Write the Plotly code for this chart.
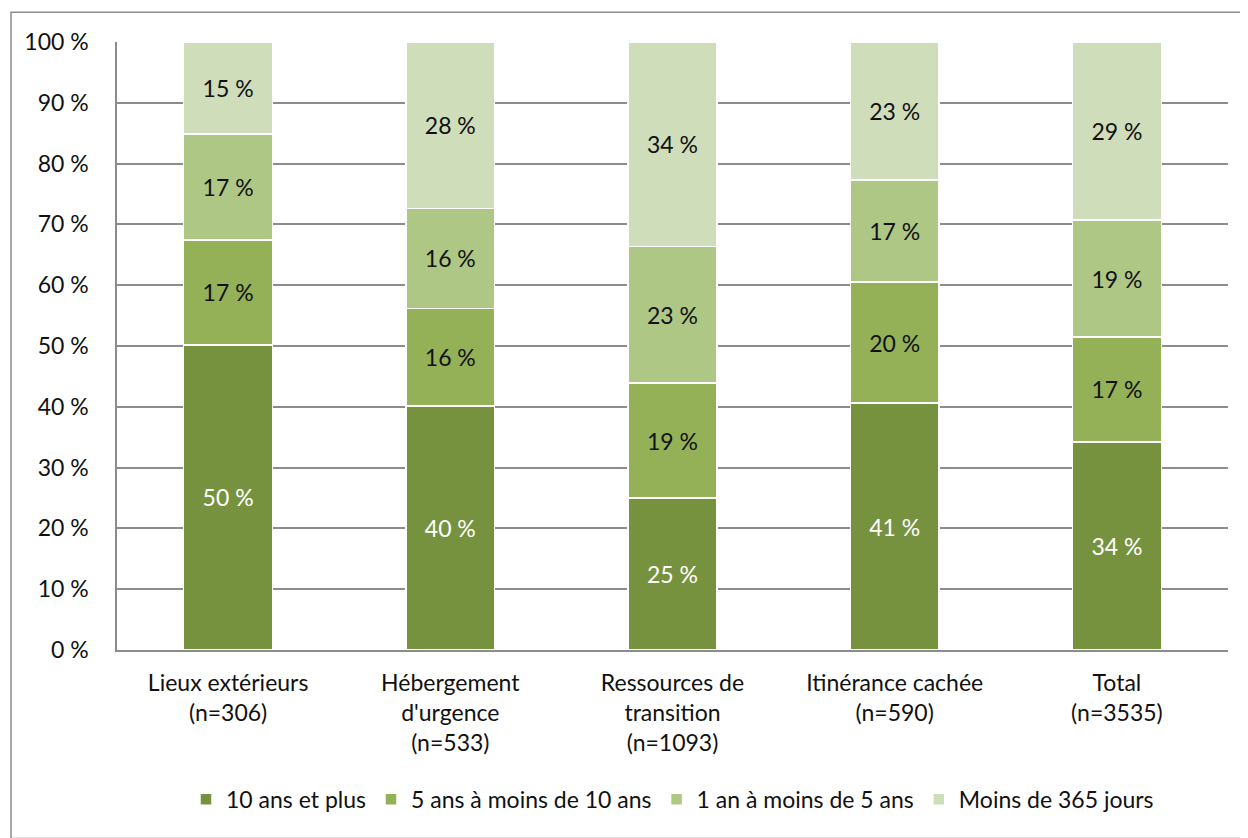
import plotly.graph_objects as go

categories = [
    "Lieux extérieurs<br>(n=306)",
    "Hébergement<br>d'urgence<br>(n=533)",
    "Ressources de<br>transition<br>(n=1093)",
    "Itinérance cachée<br>(n=590)",
    "Total<br>(n=3535)",
]

series_names = [
    "10 ans et plus",
    "5 ans à moins de 10 ans",
    "1 an à moins de 5 ans",
    "Moins de 365 jours",
]

# share of each duration group (in %)
ten_plus = [50.2, 40.1, 25.0, 40.6, 34.2]
five_to_ten = [17.2, 16.1, 18.9, 19.9, 17.3]
one_to_five = [17.5, 16.4, 22.5, 16.8, 19.2]
under_year = [15.1, 27.4, 33.6, 22.7, 29.3]

# printed labels
ten_plus_lbl = ["50 %", "40 %", "25 %", "41 %", "34 %"]
five_to_ten_lbl = ["17 %", "16 %", "19 %", "20 %", "17 %"]
one_to_five_lbl = ["17 %", "16 %", "23 %", "17 %", "19 %"]
under_year_lbl = ["15 %", "28 %", "34 %", "23 %", "29 %"]

colors = ["#77923f", "#94b157", "#aec785", "#cfddba"]
text_colors = ["white", "#111111", "#111111", "#111111"]

FONT = "Lato, 'Open Sans', sans-serif"
FS = 23

fig = go.Figure()
data = [ten_plus, five_to_ten, one_to_five, under_year]
labels = [ten_plus_lbl, five_to_ten_lbl, one_to_five_lbl, under_year_lbl]
for name, vals, lbl, col, tcol in zip(series_names, data, labels, colors, text_colors):
    fig.add_trace(go.Bar(
        x=categories,
        y=vals,
        name=name,
        text=lbl,
        textposition="inside",
        insidetextanchor="middle",
        textangle=0,
        textfont=dict(color=tcol, size=FS, family=FONT),
        marker=dict(color=col, line=dict(color="white", width=1.5)),
        hoverinfo="skip",
    ))

# page has an 8px body margin, so the figure is 8px smaller than the window
fig.update_layout(
    barmode="stack",
    bargap=0.6,
    width=1240,
    height=830,
    margin=dict(l=109, r=20, t=34, b=188),
    plot_bgcolor="white",
    paper_bgcolor="white",
    font=dict(family=FONT, size=FS, color="#111111"),
    uniformtext=dict(minsize=FS, mode="show"),
    showlegend=True,
    legend=dict(
        orientation="h",
        x=0.5,
        xanchor="center",
        y=-0.21,
        yanchor="top",
        font=dict(size=FS, family=FONT),
        itemwidth=30,
        traceorder="normal",
    ),
    shapes=[
        dict(type="rect", xref="paper", yref="paper",
             x0=-0.0954, x1=1.015, y0=-0.31, y1=1.049,
             line=dict(color="#8c8c8c", width=1.5), fillcolor="rgba(0,0,0,0)",
             layer="below"),
    ],
)

fig.update_yaxes(
    range=[0, 100],
    tickvals=list(range(0, 101, 10)),
    ticktext=[f"{v} %" for v in range(0, 101, 10)],
    showgrid=True,
    gridcolor="#8c8c8c",
    gridwidth=1.5,
    showline=True,
    linecolor="#8c8c8c",
    linewidth=1.5,
    zeroline=False,
    ticks="",
    ticklabelstandoff=22,
    tickfont=dict(size=FS),
)

fig.update_xaxes(
    showline=True,
    linecolor="#8c8c8c",
    linewidth=1.5,
    ticks="",
    ticklabelstandoff=12,
    tickfont=dict(size=FS),
    tickangle=0,
)

fig.write_html("out.html")
